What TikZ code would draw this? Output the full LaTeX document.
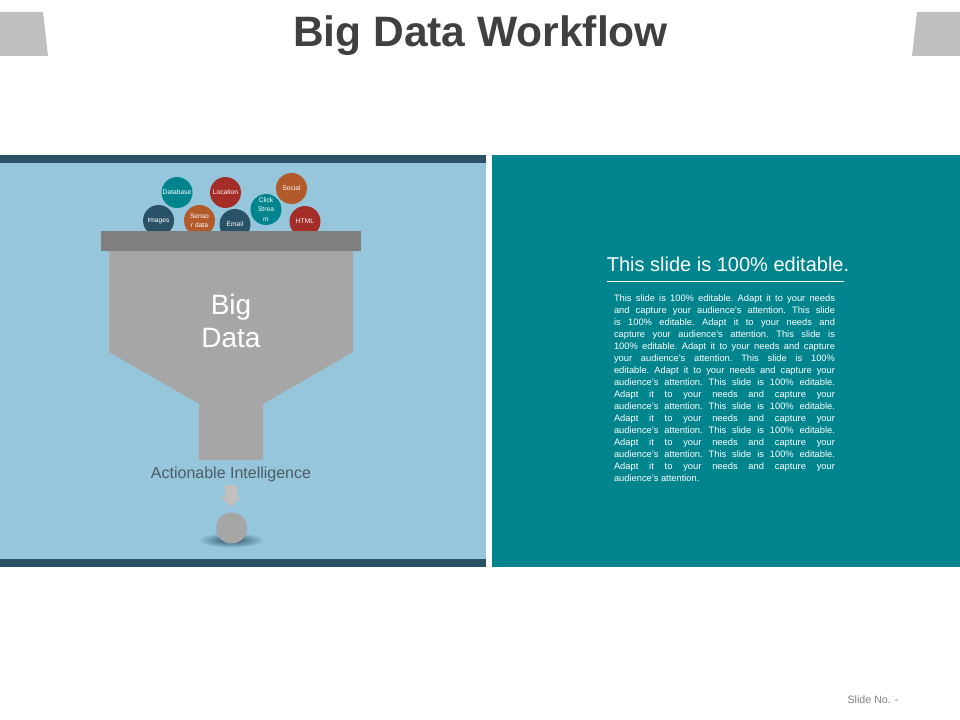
\documentclass[tikz,border=0pt]{standalone}
\usepackage{fontspec}
\setmainfont{Liberation Sans}
\definecolor{paleblue}{HTML}{95C6DB}
\definecolor{deepblue}{HTML}{2A5266}
\definecolor{teal}{HTML}{00858F}
\definecolor{rust}{HTML}{B35A2A}
\definecolor{brick}{HTML}{A52D28}
\definecolor{funnelgrey}{HTML}{A6A6A6}
\definecolor{bargrey}{HTML}{7F7F7F}
\definecolor{tabgrey}{HTML}{BFBFBF}
\definecolor{arrowgrey}{HTML}{C2BFBE}
\definecolor{labelgrey}{HTML}{4F5C66}
\begin{document}
\begin{tikzpicture}[x=0.75pt,y=-0.75pt,
    bubble/.style={circle, minimum size=23.25pt, inner sep=0pt, text=white, align=center, font=\fontsize{5}{7}\selectfont},
    tab/.style={fill=tabgrey},
    band/.style={fill=deepblue}]
\useasboundingbox (0,0) rectangle (960,720);
\fill[white] (0,0) rectangle (960,720);
% corner tabs and title
\fill[tab] (0,12) -- (43,12) -- (48,56) -- (0,56) -- cycle;
\fill[tab] (917,12) -- (960,12) -- (960,56) -- (912,56) -- cycle;
\node[anchor=base, text=black!75, font=\fontsize{31.9}{38}\selectfont\bfseries] (title) at (480.5,47) {Big Data Workflow};
% panels
\fill[paleblue] (0,155) rectangle (486,567);
\fill[band] (0,155) rectangle (486,163);
\fill[band] (0,559) rectangle (486,567);
\fill[teal] (492,155) rectangle (960,567);
% bubbles
\node[bubble, fill=teal] (database) at (177,192.5) {Database};
\node[bubble, fill=brick] (location) at (225.5,192.5) {Location};
\node[bubble, fill=rust] (social) at (291.5,188.5) {Social};
\node[bubble, fill=teal] (click) at (266,209.5) {Click\\Strea\\m};
\node[bubble, fill=brick] (html) at (305,221.5) {HTML};
\node[bubble, fill=deepblue] (email) at (235,224.5) {Email};
\node[bubble, fill=rust] (sensor) at (199.5,220.5) {Senso\\r data};
\node[bubble, fill=deepblue] (images) at (158.5,220.5) {Images};
% funnel
\fill[funnelgrey] (109,251) -- (353,251) -- (353,352) -- (263,404) -- (263,460) -- (199,460) -- (199,404) -- (109,352) -- cycle;
\fill[bargrey] (101,231) rectangle (361,251);
\node[text=white, align=center, font=\fontsize{21}{24.75}\selectfont] (bigdata) at (231,321) {Big\\Data};
\node[text=labelgrey, font=\fontsize{12}{14}\selectfont] (actionable) at (231,474) {Actionable Intelligence};
% arrow and ball
\fill[arrowgrey] (225,485) -- (237,485) -- (237,497) -- (241,497) -- (231,507) -- (221,497) -- (225,497) -- cycle;
\shade[inner color=deepblue, outer color=paleblue] (231,540) ellipse (33 and 7.5);
\node[circle, fill=funnelgrey, minimum size=23.25pt, inner sep=0pt] (ball) at (231.5,528) {};
% right text
\node[text=white, font=\fontsize{15}{18}\selectfont] (heading) at (728,264) {This slide is 100\% editable.};
\coordinate (rulea) at (607,281);
\coordinate (ruleb) at (844,281);
\draw[white, line width=0.6pt] (rulea) -- (ruleb);
\node[text=white, text width=165.75pt, inner sep=0pt, align=justify, font=\fontsize{7}{9}\selectfont\frenchspacing] (body) at (724.5,388) {This slide is 100\% editable. Adapt it to your needs\linebreak
and capture your audience's attention. This slide\linebreak
is 100\% editable. Adapt it to your needs and\linebreak
capture your audience's attention. This slide is\linebreak
100\% editable. Adapt it to your needs and capture\linebreak
your audience's attention. This slide is 100\%\linebreak
editable. Adapt it to your needs and capture your\linebreak
audience's attention. This slide is 100\% editable.\linebreak
Adapt it to your needs and capture your\linebreak
audience's attention. This slide is 100\% editable.\linebreak
Adapt it to your needs and capture your\linebreak
audience's attention. This slide is 100\% editable.\linebreak
Adapt it to your needs and capture your\linebreak
audience's attention. This slide is 100\% editable.\linebreak
Adapt it to your needs and capture your\linebreak
audience's attention.};
\node[text=black!50, font=\fontsize{8}{10}\selectfont] (slideno) at (873,700) {Slide No. -};
\end{tikzpicture}
\end{document}
